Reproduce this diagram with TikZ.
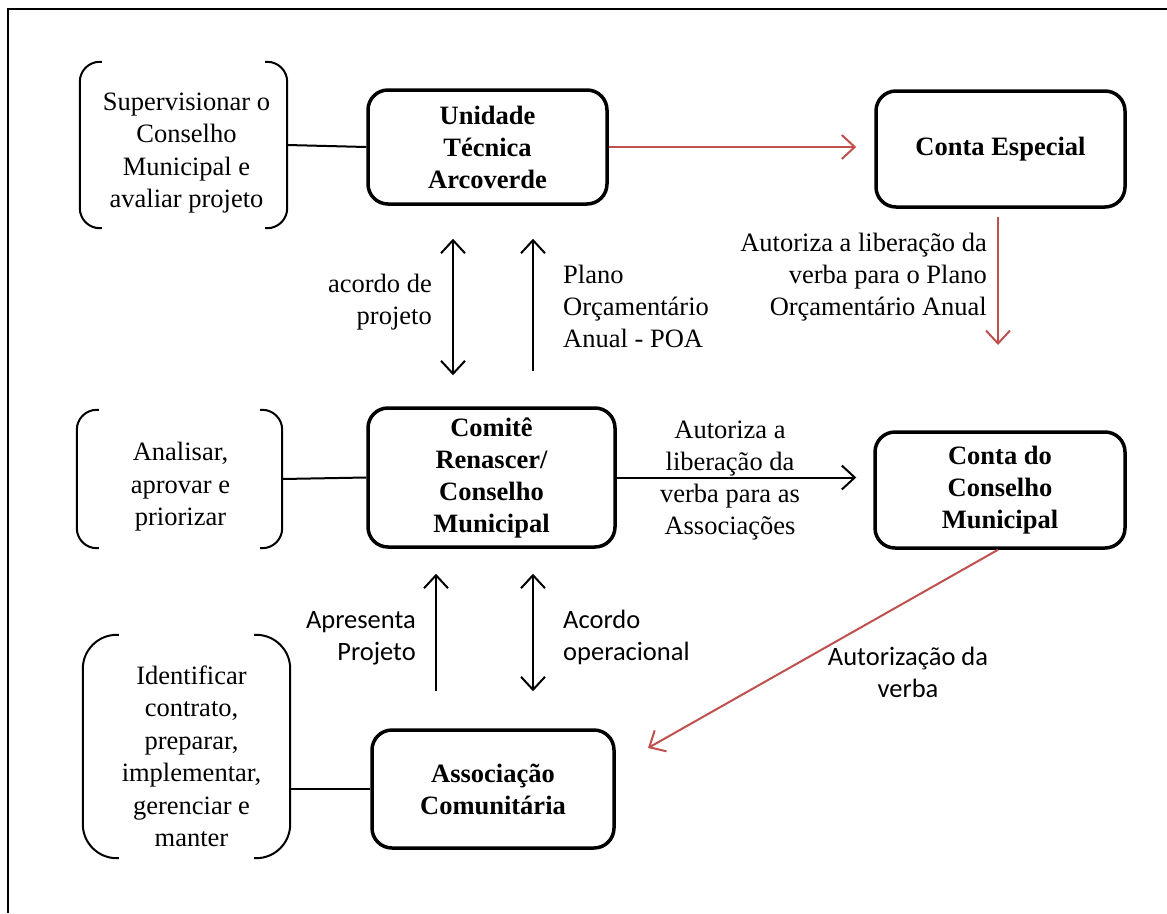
\documentclass[tikz,border=0pt]{standalone}
\usepackage{fontspec}
\setmainfont{Liberation Serif}
\newfontfamily\calibfont{Carlito}
\usetikzlibrary{arrows.meta}
\definecolor{linkred}{RGB}{192,80,77}
\begin{document}
\begin{tikzpicture}[x=1pt,y=-1pt,
  txt/.style={font=\fontsize{26.5}{32}\selectfont, inner sep=0pt},
  sanstxt/.style={font=\calibfont\fontsize{26.5}{32}\selectfont, inner sep=0pt},
  unit/.style={draw, line width=3.5pt, rounded corners=20pt, align=center,
    inner sep=0pt, font=\bfseries\fontsize{26.5}{32}\selectfont},
  frame/.style={inner sep=0pt},
  task/.style={align=center, inner sep=0pt, font=\fontsize{26.5}{32.5}\selectfont},
  bracket/.style={line width=2pt},
  conn/.style={line width=2pt},
  flow/.style={line width=2pt, -{Straight Barb[length=13pt,width=24pt,line width=2pt]}},
  bothflow/.style={line width=2pt, {Straight Barb[length=13pt,width=24pt,line width=2pt]}-{Straight Barb[length=13pt,width=24pt,line width=2pt]}},
  redflow/.style={flow, draw=linkred}
]
\useasboundingbox (0,0) rectangle (1167,913);
% page frame (top and left edges)
\draw[line width=1.5pt] (8,913) -- (8,9) -- (1167,9);

% main units
\node[unit, minimum width=239pt, minimum height=114pt] (uta) at (487.5,147) {Unidade\\Técnica\\Arcoverde};
\node[unit, minimum width=249pt, minimum height=116pt] (ces) at (1000.5,149) {Conta Especial};
\node[unit, minimum width=247pt, minimum height=139pt] (com) at (491.5,477.5) {Comitê\\Renascer/\\Conselho\\Municipal};
\node[unit, minimum width=250pt, minimum height=116pt] (ccm) at (1000,490) {Conta do\\Conselho\\Municipal};
\node[unit, minimum width=242pt, minimum height=118pt] (ass) at (493,789) {Associação\\Comunitária};

% duties, framed by round brackets
\node[frame, minimum width=207pt, minimum height=166pt] (sup) at (183.5,145) {};
\node[frame, minimum width=205pt, minimum height=138pt] (ana) at (179.5,479) {};
\node[frame, minimum width=207pt, minimum height=223pt] (ide) at (186.5,746.5) {};
\node[task] (suptext) at ([xshift=3pt,yshift=-8pt]sup.center) {Supervisionar o\\Conselho\\Municipal e\\avaliar projeto};
\node[task] (anatext) at ([xshift=1pt,yshift=-8pt]ana.center) {Analisar,\\aprovar e\\priorizar};
\node[task] (idetext) at ([xshift=5pt,yshift=-10pt]ide.center) {Identificar\\contrato,\\preparar,\\implementar,\\gerenciar e\\manter};

\foreach \n/\r in {sup/20, ana/20, ide/34} {
  \draw[bracket, rounded corners=\r pt]
    ([xshift=\r pt+2pt]\n.north west) -- (\n.north west) -- (\n.south west) -- ([xshift=\r pt+2pt]\n.south west);
  \draw[bracket, rounded corners=\r pt]
    ([xshift=-\r pt-2pt]\n.north east) -- (\n.north east) -- (\n.south east) -- ([xshift=-\r pt-2pt]\n.south east);
}

% duty links
\draw[conn] (sup.east) -- (uta.west);
\draw[conn] (ana.east) -- (com.west);
\draw[conn] (ide.east |- ass.west) -- (ass.west);

% free ends of the red flows
\coordinate (cesout) at (998,345);
\coordinate (assin) at (648,748);

% money flows
\draw[redflow, shorten >=18pt] (uta.east) -- (uta.east -| ces.west);
\draw[redflow, shorten <=8pt] ([xshift=-2.5pt]ces.south) -- (cesout);
\draw[redflow] ([xshift=-2pt]ccm.south) -- (assin);
\draw[flow, shorten >=17pt] (com.east) -- (com.east -| ccm.west);

% agreements between the levels
\draw[bothflow, shorten <=33pt, shorten >=31pt] ([xshift=-34.5pt]uta.south) -- ([xshift=-38.5pt]com.north);
\draw[flow, shorten <=35pt, shorten >=33pt] ([xshift=41.5pt]com.north) -- ([xshift=45.5pt]uta.south);
\draw[flow, shorten <=37pt, shorten >=25pt] ([xshift=-57pt]ass.north) -- ([xshift=-55.5pt]com.south);
\draw[bothflow, shorten <=25pt, shorten >=37pt] ([xshift=41.5pt]com.south) -- ([xshift=40pt]ass.north);

% flow labels
\node[txt, align=right, anchor=east] (lacordo) at (432,302) {acordo de\\projeto};
\node[txt, align=left, anchor=west] (lpoa) at (563,306) {Plano\\Orçamentário\\Anual - POA};
\node[txt, align=right, anchor=east] (lverba) at (987,277) {Autoriza a liberação da\\verba para o Plano\\Orçamentário Anual};
\node[txt, align=center] (lassoc) at (730,481) {Autoriza a\\liberação da\\verba para as\\Associações};
\node[sanstxt, align=right, anchor=east] (lapres) at (416,638) {Apresenta\\Projeto};
\node[sanstxt, align=left, anchor=west] (loper) at (563,637) {Acordo\\operacional};
\node[sanstxt, align=center] (lautor) at (908,672) {Autorização da\\verba};
\end{tikzpicture}
\end{document}
